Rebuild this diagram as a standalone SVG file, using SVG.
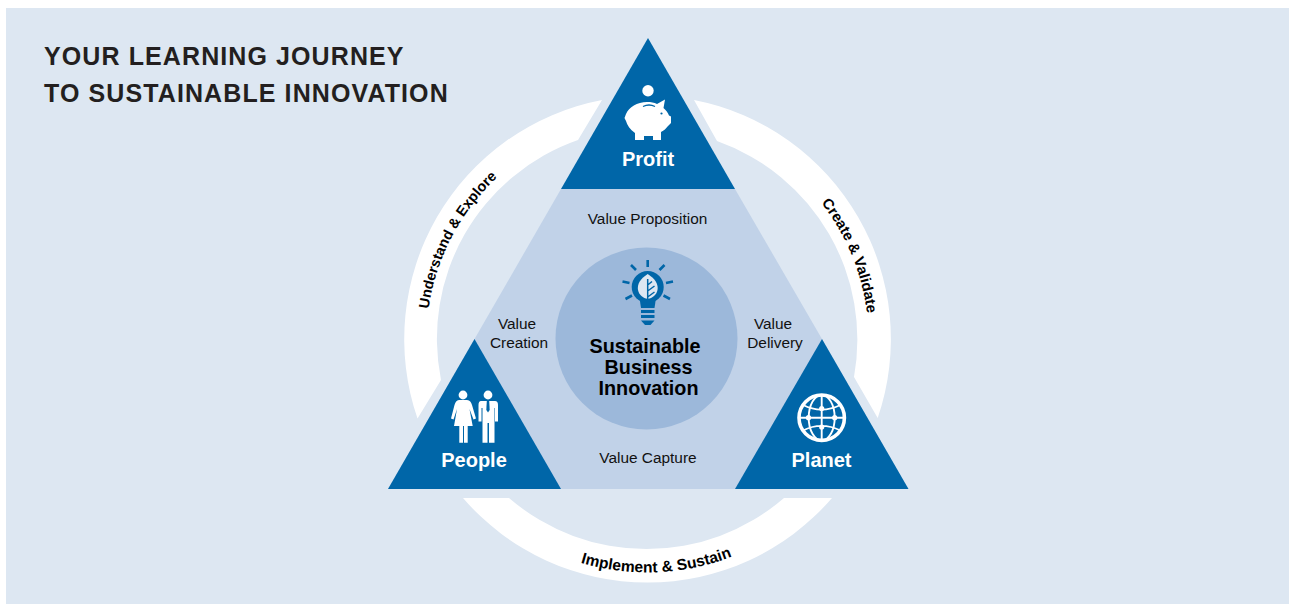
<svg xmlns="http://www.w3.org/2000/svg" width="1289" height="605" viewBox="0 0 1289 605">
<style>
text{font-family:"Liberation Sans",Arial,sans-serif;text-anchor:middle}
.tri{fill:#0066a8}
.ico{fill:#fff}
.ln{fill:none;stroke:#fff}
.bl{fill:none;stroke:#0066a8;stroke-linecap:butt}
.title{font-size:25px;font-weight:700;fill:#231f20;text-anchor:start;letter-spacing:1.1px}
.lab{font-size:20px;font-weight:700;fill:#fff}
.val{font-size:15.4px;fill:#111}
.core{font-size:19.8px;font-weight:700;fill:#000}
.arc{fill:#fff}
.arclab{font-size:14.4px;font-weight:700;fill:#000}
.arclab1{font-size:14.8px;font-weight:700;fill:#000}
.arclab2{font-size:15.6px;font-weight:700;fill:#000}
</style>
<defs>
<path id="pl" d="M431.7,387 A221,221 0 0 1 563.3,135.2"/>
<path id="pr" d="M749.5,143.5 A221,221 0 0 1 858.3,406"/>
<path id="pb" d="M505,523.8 A233,233 0 0 0 804.3,511.8"/>
</defs>
<rect width="1289" height="605" fill="#fff"/>
<rect x="6" y="8" width="1283" height="596" fill="#dde7f2"/>
<g id="title">
<text class="title" x="44" y="64.5">YOUR LEARNING JOURNEY</text>
<text class="title" x="44" y="101.5">TO SUSTAINABLE INNOVATION</text>
</g>
<g id="connectors">
<path class="arc" d="M417.5,418.5 A243.5,243.5 0 0 1 602,100 L578,140 A210.5,210.5 0 0 0 441,380 Z"/>
<path class="arc" d="M694,100 A243.5,243.5 0 0 1 877.7,418 L854,377 A210.5,210.5 0 0 0 717,141 Z"/>
<path class="arc" d="M463,498 A243.5,243.5 0 0 0 832,498 L784,498 A210.5,210.5 0 0 1 509,498 Z"/>
<text class="arclab"><textPath href="#pl" startOffset="50%">Understand &amp; Explore</textPath></text>
<text class="arclab1"><textPath href="#pr" startOffset="50%">Create &amp; Validate</textPath></text>
<text class="arclab2"><textPath href="#pb" startOffset="50%">Implement &amp; Sustain</textPath></text>
</g>
<g id="centre-triangle">
<path d="M561,189 H735 L822,339 L908,489 H388 L474.5,339 Z" fill="#c1d2e8"/>
<text class="val" x="647.5" y="224">Value Proposition</text>
<text class="val" x="648" y="463">Value Capture</text>
<text class="val" x="517" y="329">Value</text>
<text class="val" x="519" y="348">Creation</text>
<text class="val" x="773" y="329">Value</text>
<text class="val" x="775" y="348">Delivery</text>
</g>
<g id="core">
<circle cx="646.5" cy="338.5" r="91" fill="#9cb8da"/>
<circle cx="647.7" cy="287" r="16" fill="#0066a8"/>
<path d="M639.5,298 H656 L654.5,308 H641 Z" fill="#0066a8"/>
<path d="M647.7,274 C640,279 637,284.5 638,290 C639,295 643,298 647.7,299 C652.4,298 656.5,295 657.5,290 C658.5,284.5 655.5,279 647.7,274 Z" fill="#dde7f2"/>
<path d="M647.7,279 V306 M647.7,285 L652,281.5 M647.7,291 L654.5,286 M647.7,297 L654.5,292" fill="none" stroke="#0066a8" stroke-width="1.5"/>
<path d="M641,311.5 H654.5 M641,316.5 H654.5" class="bl" stroke-width="2.8"/>
<path d="M641,320.5 H654.5 L650.5,325 H645 Z" fill="#0066a8"/>
<path d="M647.7,260 V267 M631,265 L636,270 M664.5,265 L659.5,270 M622.5,281.5 L629.5,283 M673,281.5 L666,283 M625.5,299 L632,295.5 M670,299 L663.5,295.5" class="bl" stroke-width="2.6"/>
<text class="core" x="645" y="353">Sustainable</text>
<text class="core" x="648.5" y="374">Business</text>
<text class="core" x="648.5" y="395">Innovation</text>
</g>
<g id="profit">
<path class="tri" d="M648,38 L735,189 H561 Z"/>
<circle class="ico" cx="648" cy="90.7" r="5.7"/>
<path class="ico" d="M665,99.5 L663.5,108 C666,110 668,113 669,115.5 L671,116.5 V123 L668,126 C666,128.5 664,130.5 661,132 V140 H653 V136 H644 V140 H635 V133 C630,129.5 627,125 626,121 L624.5,118 L626,114 C629,107 637,102 647,102 C651,102 654,102.5 657,104 Z"/>
<path d="M643,106.5 C647,104.5 651,104.5 655,106.5" fill="none" stroke="#0066a8" stroke-width="1.3"/>
<circle cx="661.5" cy="113.5" r="1.1" fill="#0066a8"/>
<text class="lab" x="648" y="165.5">Profit</text>
</g>
<g id="people">
<path class="tri" d="M474.5,339 L561,489 H388 Z"/>
<circle class="ico" cx="463" cy="395" r="4.4"/>
<circle class="ico" cx="488" cy="395" r="4.4"/>
<path class="ico" d="M459,400 H467 C470,400.5 471,402 472,405 L476,418.5 L473.5,419.5 L469.5,409 L472.7,426 H467.7 V442.7 H464 V426 H463 V442.7 H459.3 V426 H454 L457,409 L453.5,419.5 L451,418.5 L454.5,405 C455.5,402 456.5,400.5 459,400 Z"/>
<path class="ico" d="M481,401 H495 C497,401 498,402.5 498,405 V421.5 H495 V408 H494.5 V442.7 H489 V423 H487.5 V442.7 H482.5 V408 H481.5 V421.5 H478.5 V405 C478.5,402.5 479.5,401 481,401 Z"/>
<path d="M486.8,401 H489.2 L489.7,410 L488,412.5 L486.3,410 Z" fill="#0066a8"/>
<text class="lab" x="474" y="467">People</text>
</g>
<g id="planet">
<path class="tri" d="M822,339 L908.5,489 H735 Z"/>
<circle class="ln" cx="821.7" cy="417.7" r="22.7" stroke-width="3.6"/>
<g class="ln" stroke-width="1.9">
<ellipse cx="821.7" cy="417.7" rx="13" ry="22.7"/>
<path d="M821.7,395 V440.4 M799,417.7 H844.4 M803,405 C815,411 828,411 840.5,405 M803,430.5 C815,424.5 828,424.5 840.5,430.5"/>
</g>
<g class="ico">
<circle cx="821.7" cy="408.5" r="2.6"/><circle cx="808.5" cy="417.7" r="2.6"/><circle cx="834.7" cy="417.7" r="2.6"/><circle cx="821.7" cy="427" r="2.6"/>
</g>
<text class="lab" x="821.5" y="467">Planet</text>
</g>
</svg>
